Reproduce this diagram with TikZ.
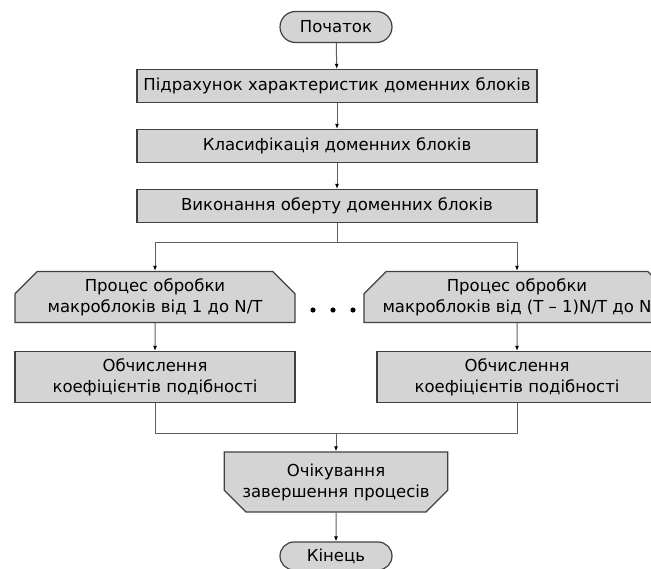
\documentclass[tikz,border=0pt]{standalone}
\usepackage{fontspec}
\setmainfont{DejaVu Sans}
\usetikzlibrary{arrows.meta,shapes.misc}

\definecolor{boxfill}{RGB}{212,212,212}
\definecolor{boxline}{RGB}{64,64,64}
\definecolor{wire}{RGB}{96,96,96}

\begin{document}
\begin{tikzpicture}[x=1pt, y=-1pt,
    every node/.style={font=\fontsize{16.5}{21}\selectfont, text=black, align=center, inner sep=0pt},
    term/.style={rounded rectangle, draw=boxline, fill=boxfill, line width=1.2pt, minimum width=112pt, minimum height=31pt},
    block/.style={rectangle, draw=boxline, fill=boxfill, line width=1.2pt, minimum width=400pt, minimum height=33pt},
    sub/.style={rectangle, draw=boxline, fill=boxfill, line width=1.2pt, minimum width=280pt, minimum height=51pt},
    prep/.style={chamfered rectangle, chamfered rectangle xsep=20pt, chamfered rectangle corners={north west,north east}, draw=boxline, fill=boxfill, line width=1.2pt, minimum width=280pt, minimum height=51pt},
    waitbox/.style={chamfered rectangle, chamfered rectangle xsep=18pt, chamfered rectangle corners={south west,south east}, draw=boxline, fill=boxfill, line width=1.2pt, minimum width=222pt, minimum height=60pt},
    line/.style={draw=wire, line width=1pt},
    arr/.style={line, -{Latex[black,length=5pt,width=4pt]}}]
    \useasboundingbox (0,0) rectangle (651,569);
    \clip (0,0) rectangle (651,569);

    \node[term] (start) at (336,27) {Початок};
    \node[block] (calc) at (337,86) {Підрахунок характеристик доменних блоків};
    \node[block] (class) at (337,146) {Класифікація доменних блоків};
    \node[block] (turn) at (337,206) {Виконання оберту доменних блоків};

    \coordinate (split) at (337,243);
    \node[prep] (procA) at (155,297) {Процес обробки\\макроблоків від 1 до N/T};
    \node[prep] (procB) at (517,297) {Процес обробки\\макроблоків від (T -- 1)N/T до N};
    \node[sub] (coefA) at (155,377) {Обчислення\\коефіцієнтів подібності};
    \node[sub] (coefB) at (517,377) {Обчислення\\коефіцієнтів подібності};
    \foreach \x in {313,333,353}
        \fill (\x,310) circle (2.6);

    \coordinate (join) at (336,433);
    \node[waitbox] (wait) at (336,482) {Очікування\\завершення процесів};
    \node[term, minimum height=28pt] (stop) at (336,556) {Кінець};

    \draw[arr] (start) -- (calc);
    \draw[arr] (calc) -- (class);
    \draw[arr] (class) -- (turn);
    \draw[line] (turn) -- (split);
    \draw[arr] (split) -| (procA);
    \draw[arr] (split) -| (procB);
    \draw[arr] (procA) -- (coefA);
    \draw[arr] (procB) -- (coefB);
    \draw[line] (coefA) |- (join);
    \draw[line] (coefB) |- (join);
    \draw[arr] (join) -- (wait);
    \draw[arr] (wait) -- (stop);
\end{tikzpicture}
\end{document}
